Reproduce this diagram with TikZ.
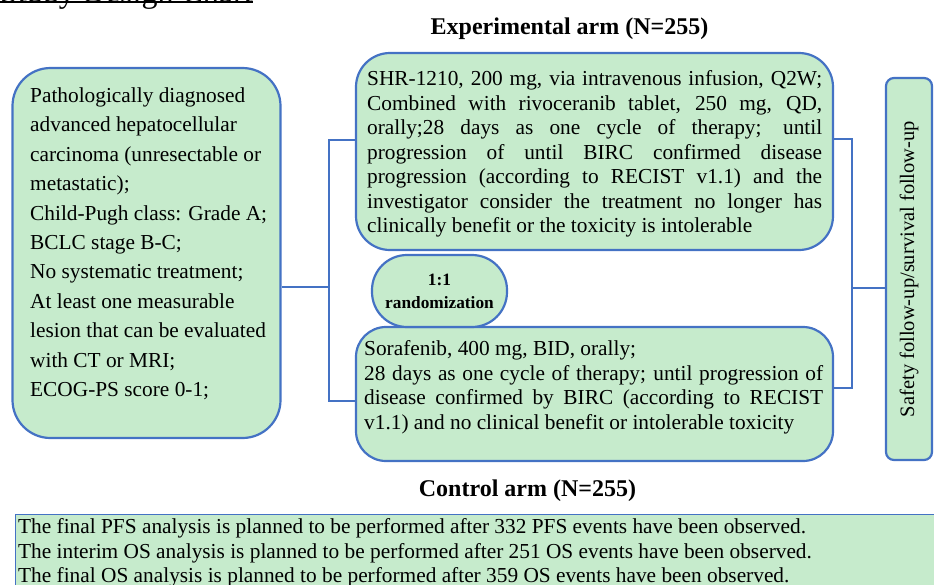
\documentclass[tikz,border=0pt]{standalone}
\usepackage{fontspec}
\setmainfont{Liberation Serif}
\definecolor{boxblue}{HTML}{4472C4}
\definecolor{boxgreen}{HTML}{C6EBCC}
\newcommand{\armfont}{\fontsize{21.33}{24.5}\selectfont}
\newcommand{\eligfont}{\fontsize{21.33}{29.4}\selectfont}
\newcommand{\headfont}{\fontsize{24}{28}\selectfont\bfseries}
\newcommand{\randfont}{\fontsize{17.3}{23}\selectfont\bfseries}
\tikzset{
  armbox/.style={draw=boxblue, line width=2.2pt, fill=boxgreen, inner sep=0pt},
  armtext/.style={anchor=north west, inner sep=0pt, font=\armfont},
  link/.style={draw=boxblue, line width=1.3pt},
}

\begin{document}
\begin{tikzpicture}[x=1pt, y=-1pt]

  \useasboundingbox (0,0) rectangle (934,584); %% page size

  %% title, cut by the top edge
  \node[anchor=base west, inner sep=0pt, font=\fontsize{32}{36}\selectfont]
    (title) at (0,2) {Study Design Chart};
  \draw[line width=1.8pt, yshift=-3.5pt] (title.base west) -- (title.base east);

  \node[anchor=base, inner sep=0pt, font=\headfont] (exphead) at (569.5,34)
    {Experimental arm (N=255)};
  \node[anchor=base, inner sep=0pt, font=\headfont] (ctrlhead) at (527.5,496)
    {Control arm (N=255)};

  %% inclusion box
  \node[armbox, rounded corners=38pt, minimum width=268pt, minimum height=370pt]
    (elig) at (146.5,253) {};
  \node[armtext, align=left, font=\eligfont] (eligtext) at (30,87.5)
    {Pathologically diagnosed\\
     advanced hepatocellular\\
     carcinoma (unresectable or\\
     metastatic);\\
     Child-Pugh class: Grade A;\\
     BCLC stage B-C;\\
     No systematic treatment;\\
     At least one measurable\\
     lesion that can be evaluated\\
     with CT or MRI;\\
     ECOG-PS score 0-1;};

  %% experimental arm
  \node[armbox, rounded corners=34pt, minimum width=477pt, minimum height=197pt]
    (expbox) at (594.5,151.5) {};
  \node[armtext, align=justify, text width=455pt] (exptext) at (367,70.5)
    {SHR-1210, 200 mg, via intravenous infusion, Q2W;\linebreak
     Combined with rivoceranib tablet, 250 mg, QD,\linebreak
     orally;28 days as one cycle of therapy; until\linebreak
     progression of until BIRC confirmed disease\linebreak
     progression (according to RECIST v1.1) and the\linebreak
     investigator consider the treatment no longer has\linebreak
     clinically benefit or the toxicity is intolerable};

  %% control arm
  \node[armbox, rounded corners=30pt, minimum width=477pt, minimum height=134pt]
    (ctrlbox) at (594.5,394) {};
  \node[armtext, align=justify, text width=459pt] (ctrltext) at (364,340.5)
    {Sorafenib, 400 mg, BID, orally;\\
     28 days as one cycle of therapy; until progression of\linebreak
     disease confirmed by BIRC (according to RECIST\linebreak
     v1.1) and no clinical benefit or intolerable toxicity};

  \node[armbox, rounded corners=35pt, minimum width=135pt, minimum height=72pt,
    font=\randfont, align=center] (rand) at (439.5,291) {1:1\\randomization};

  %% follow-up
  \node[armbox, rounded corners=8pt, rotate=90, minimum width=382pt,
    minimum height=46pt, font=\fontsize{20.5}{24}\selectfont]
    (follow) at (909,269) {Safety follow-up/survival follow-up};

  %% analysis plan
  \node[draw=boxblue, line width=0.8pt, fill=boxgreen, anchor=north west,
    inner sep=0pt, minimum width=930pt, minimum height=80pt] (plan) at (15,514) {};
  \node[armtext, align=left] (plantext) at (18,518.5)
    {The final PFS analysis is planned to be performed after 332 PFS events have been observed.\\
     The interim OS analysis is planned to be performed after 251 OS events have been observed.\\
     The final OS analysis is planned to be performed after 359 OS events have been observed.};

  %% connectors
  \coordinate (split) at (329,287);
  \coordinate (join) at (852,288);
  \coordinate (expin) at (expbox.west |- 0,140);
  \coordinate (ctrlin) at (ctrlbox.west |- 0,401);
  \coordinate (expout) at (expbox.east |- 0,139);
  \coordinate (ctrlout) at (ctrlbox.east |- 0,388);

  \draw[link] (elig.east |- split) -- (split);
  \draw[link] (expin) -| (split) |- (ctrlin);
  \draw[link] (expout) -| (join) |- (ctrlout);
  \draw[link] (join) -- (follow.north |- join);

\end{tikzpicture}
\end{document}
